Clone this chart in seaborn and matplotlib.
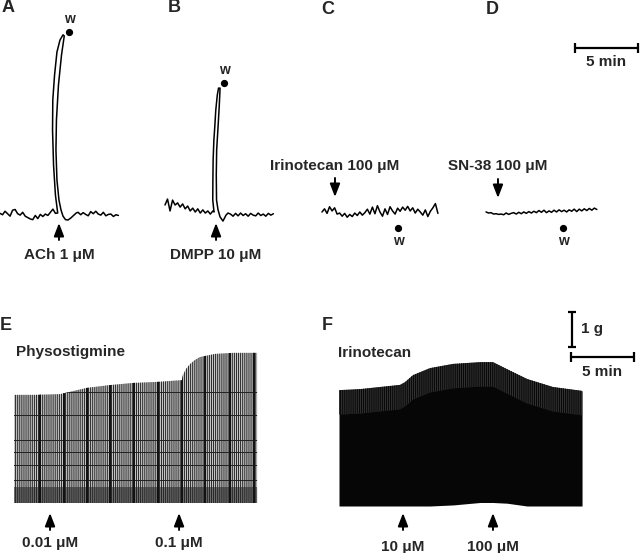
import numpy as np
import pandas as pd
import matplotlib
matplotlib.use('Agg')
import matplotlib.pyplot as plt
import seaborn as sns

# recording units: minutes on x, grams of tension on y
DT = 0.2  # chart sampling interval (min)

# A - ACh 1 uM
A_PRE = [-0.01, -0.05, 0.05, -0.02, -0.09, 0.08, 0.10, -0.02, -0.06, 0.02, -0.09, -0.13,
         -0.17, -0.19, -0.07, -0.16, -0.04, -0.10, -0.03, -0.07, 0.02, 0.11, -0.01]
A_SPIKE_T = [4.58, 4.40, 4.25, 4.17, 4.19, 4.33, 4.52, 4.76, 5.00, 5.10, 4.88, 4.64, 4.48, 4.44,
             4.52, 4.68, 4.84, 5.00, 5.20, 5.40, 5.63, 5.87, 6.05]
A_SPIKE_G = [0.00, 0.51, 1.37, 2.37, 3.23, 3.94, 4.60, 4.94, 5.09, 5.06, 4.51, 3.66, 2.66, 1.80,
             0.94, 0.37, 0.09, -0.09, -0.19, -0.20, -0.14, -0.06, 0.00]
A_POST = [0.02, -0.05, 0.01, -0.04, -0.08, 0.04, -0.02, 0.05, -0.03, -0.06, 0.02, -0.08,
          -0.04, -0.03, -0.10, -0.05, -0.07]
A_POST_T0 = 6.2

# B - DMPP 10 uM
B_PRE = [0.20, 0.37, 0.03, 0.34, 0.20, 0.26, 0.14, 0.23, 0.09, 0.17, 0.03, 0.11, 0.00, 0.09,
         -0.03, 0.06, -0.03, 0.03, -0.06, 0.03]
B_SPIKE_T = [3.89, 3.79, 3.80, 3.82, 3.88, 3.95, 4.03, 4.15, 4.25,
             4.37, 4.31, 4.21, 4.10, 4.07, 4.09, 4.21, 4.37, 4.60, 4.84, 5.00]
B_SPIKE_G = [0.00, 0.34, 0.91, 1.49, 2.06, 2.43, 2.91, 3.34, 3.54,
             3.54, 3.06, 2.43, 1.77, 1.06, 0.34, 0.06, -0.14, -0.26, -0.09, -0.03]
B_POST = [-0.06, -0.12, -0.04, -0.11, -0.03, -0.10, -0.05, -0.12, -0.04, -0.09, -0.11, -0.03,
          -0.10, -0.06, -0.12, -0.04, -0.09, -0.05]
B_POST_T0 = 5.2

# C - irinotecan 100 uM, D - SN-38 100 uM
C_TRACE = [0.00, 0.09, -0.04, 0.15, 0.03, 0.12, -0.06, -0.03, -0.12, -0.04,
           -0.15, -0.07, -0.13, -0.03, -0.10, 0.00, -0.09, -0.02, 0.08, -0.06,
           0.14, -0.05, 0.18, 0.00, -0.12, 0.09, -0.07, 0.15, 0.03, -0.06,
           0.11, 0.02, 0.14, 0.05, 0.16, 0.03, 0.12, -0.03, 0.08, 0.00,
           -0.09, 0.06, -0.13, 0.02, 0.12, 0.24, -0.04]
D_TRACE = [0.03, 0.00, 0.01, -0.03, -0.02, -0.04, -0.03, -0.05, 0.00, -0.04,
           -0.01, 0.01, -0.03, 0.02, -0.02, 0.03, -0.01, 0.04, 0.00, 0.05,
           0.01, 0.07, 0.02, 0.08, 0.01, 0.06, 0.02, 0.08, 0.03, 0.09,
           0.04, 0.08, 0.03, 0.09, 0.05, 0.11, 0.04, 0.11, 0.06, 0.12,
           0.07, 0.13, 0.08, 0.14, 0.10]

# E - physostigmine, envelope of twitch peaks
E_T = [0, 1.67, 3.65, 5.79, 7.62, 9.44, 11.35, 13.33, 13.41, 13.65, 13.97, 14.37, 14.76, 15.95, 17.38, 19.29]
E_TOP = [3.09, 3.09, 3.11, 3.29, 3.37, 3.43, 3.46, 3.51, 3.66, 3.83, 3.97, 4.09, 4.17, 4.26, 4.29, 4.29]
E_MARKS = [2.06, 3.97, 5.79, 7.62, 9.52, 11.43, 13.33, 15.16, 17.14, 19.05]
E_PAPER = [0.66, 1.09, 1.46, 1.80, 2.51, 3.17]

# F - irinotecan
F_T = [0, 1.67, 3.25, 4.84, 5.24, 5.87, 7.22, 9.05, 11.19, 12.22, 13.33, 14.92, 16.98, 19.29]
F_TOP = [3.31, 3.34, 3.40, 3.46, 3.54, 3.74, 3.94, 4.06, 4.11, 4.11, 3.91, 3.63, 3.40, 3.29]
F_BOTTOM = [0, 0, 0, 0, 0, 0, 0, 0.03, 0.10, 0.10, 0.08, 0, 0, 0]

DOSES = {
    'A': [(4.68, 'ACh 1 μM')],
    'B': [(4.05, 'DMPP 10 μM')],
    'C': [(1.03, 'Irinotecan 100 μM')],
    'D': [(0.95, 'SN-38 100 μM')],
    'E': [(2.86, '0.01 μM'), (13.10, '0.1 μM')],
    'F': [(5.08, '10 μM'), (12.22, '100 μM')],
}
WASH = {'A': (5.48, 5.17), 'B': (4.68, 3.69), 'C': (6.03, -0.46), 'D': (6.11, -0.43)}

sns.set_theme(style='white')
plt.rcParams['font.family'] = ['Liberation Sans', 'DejaVu Sans']
plt.rcParams['font.weight'] = 'bold'
plt.rcParams['hatch.linewidth'] = 0.6

W, H = 640, 553
PX_MIN = 12.6   # pixels per minute
PX_G = 35.0     # pixels per gram
PT = 0.72       # points per pixel at 100 dpi
fig = plt.figure(figsize=(6.4, 5.53), dpi=100)


def panel(box, origin):
    x, y, w, h = box
    ox, oy = origin
    ax = fig.add_axes([x / W, 1 - (y + h) / H, w / W, h / H])
    ax.set_xlim((x - ox) / PX_MIN, (x + w - ox) / PX_MIN)
    ax.set_ylim((oy - y - h) / PX_G, (oy - y) / PX_G)
    ax.set_axis_off()
    return ax


def fig_text(x, y, s, size=11, **kw):
    fig.text(x / W, 1 - y / H, s, fontsize=size, fontweight='bold', va='center', **kw)


def line(ax, t, g, lw=1.1):
    df = pd.DataFrame({'min': t, 'g': g})
    sns.lineplot(data=df, x='min', y='g', sort=False, estimator=None,
                 color='black', linewidth=lw, ax=ax)


def regular(vals, t0=0.0):
    return t0 + DT * np.arange(len(vals))


def dose(ax, t, label, side=-1, head=10, tail=27, text=42):
    ax.annotate('', xy=(t, side * head / PX_G), xytext=(t, side * tail / PX_G),
                arrowprops=dict(arrowstyle='-|>,head_width=0.25,head_length=0.65',
                                color='black', lw=1.4, shrinkA=0, shrinkB=0))
    ax.text(t, side * text / PX_G, label, ha='center', va='center', fontsize=11, fontweight='bold')


def wash(ax, t, g, side):
    ax.plot([t], [g], 'o', color='black', ms=4.2)
    ax.annotate('w', (t, g), xytext=(0, side * 13 * PT), textcoords='offset points',
                ha='center', va='center', fontsize=10, fontweight='bold')


# ---- A
ax = panel((0, 25, 160, 245), (0, 213))
line(ax, np.concatenate([regular(A_PRE), A_SPIKE_T, regular(A_POST, A_POST_T0)]),
     np.concatenate([A_PRE, A_SPIKE_G, A_POST]))
for t, lab in DOSES['A']:
    dose(ax, t, lab, -1, 10, 27, 42)
wash(ax, *WASH['A'], 1)

# ---- B
ax = panel((160, 60, 160, 210), (165, 212))
line(ax, np.concatenate([regular(B_PRE), B_SPIKE_T, regular(B_POST, B_POST_T0)]),
     np.concatenate([B_PRE, B_SPIKE_G, B_POST]))
for t, lab in DOSES['B']:
    dose(ax, t, lab, -1, 11, 28, 43)
wash(ax, *WASH['B'], 1)

# ---- C
ax = panel((315, 150, 160, 120), (322, 212))
line(ax, regular(C_TRACE), C_TRACE)
for t, lab in DOSES['C']:
    dose(ax, t, lab, 1, 15, 34, 46)
wash(ax, *WASH['C'], -1)

# ---- D
ax = panel((480, 150, 160, 120), (486, 213))
line(ax, regular(D_TRACE), D_TRACE)
for t, lab in DOSES['D']:
    dose(ax, t, lab, 1, 15, 34, 47)
wash(ax, *WASH['D'], -1)

# ---- E
ax = panel((0, 340, 320, 213), (14, 503))
poly = ax.fill_between(E_T, 0, E_TOP, facecolor='#c4c4c4', edgecolor='#111111',
                       hatch='|' * 8, linewidth=0)
clip = poly.get_paths()[0]
band = ax.axhspan(0, 0.45, color='#222222', alpha=0.55, lw=0)
band.set_clip_path(clip, ax.transData)
for lvl in E_PAPER:
    ln = ax.axhline(lvl, color='#222222', lw=0.7)
    ln.set_clip_path(clip, ax.transData)
for t in E_MARKS:
    ln = ax.axvline(t, color='#111111', lw=1.4)
    ln.set_clip_path(clip, ax.transData)
for t, lab in DOSES['E']:
    dose(ax, t, lab, -1, 10, 27, 40)

# ---- F
ax = panel((320, 340, 320, 213), (339, 506))
ax.fill_between(F_T, F_BOTTOM, F_TOP, facecolor='#060606', linewidth=0)
ax.fill_between(F_T, np.array(F_TOP) - 0.7, F_TOP, facecolor='#303030', edgecolor='#000000',
                hatch='|' * 8, linewidth=0)
for t, lab in DOSES['F']:
    dose(ax, t, lab, -1, 7, 24, 41)

# ---- scale bars
ax = panel((560, 25, 80, 45), (575, 48))
ax.plot([0, 5], [0, 0], color='black', lw=1.6, marker='|', ms=7, mew=1.6)
ax.annotate('5 min', (2.5, 0), xytext=(0, -14 * PT), textcoords='offset points',
            ha='center', va='center', fontsize=11, fontweight='bold')

ax = panel((555, 300, 85, 60), (572, 347))
ax.plot([0, 0], [0, 1], color='black', lw=1.6, marker='_', ms=6, mew=1.6)
ax.annotate('1 g', (0, 0.5), xytext=(9 * PT, 0), textcoords='offset points',
            ha='left', va='center', fontsize=11, fontweight='bold')

ax = panel((555, 345, 85, 40), (571, 357))
ax.plot([0, 5], [0, 0], color='black', lw=1.6, marker='|', ms=7, mew=1.6)
ax.annotate('5 min', (2.5, 0), xytext=(0, -15 * PT), textcoords='offset points',
            ha='center', va='center', fontsize=11, fontweight='bold')

# ---- panel letters and titles
for letter, x, y in [('A', 8, 8), ('B', 174, 8), ('C', 328, 10), ('D', 492, 10),
                     ('E', 6, 325), ('F', 327, 325)]:
    fig_text(x, y, letter, size=13, ha='center')
fig_text(16, 352, 'Physostigmine', ha='left')
fig_text(338, 353, 'Irinotecan', ha='left')

fig.savefig('out.png', dpi=100, facecolor='white')
